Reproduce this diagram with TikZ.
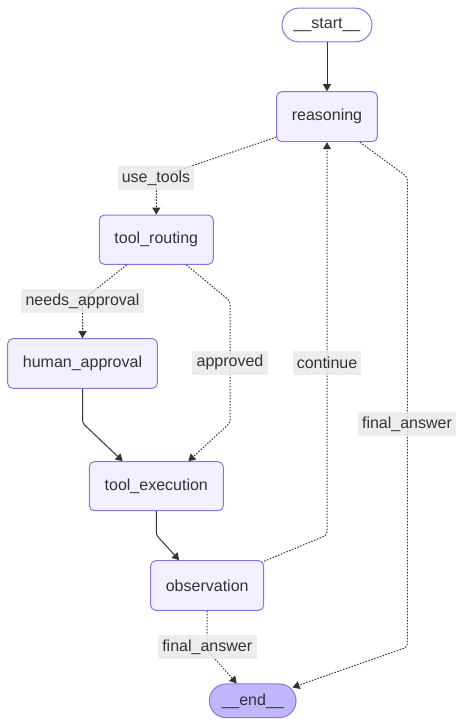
\documentclass[tikz,border=0pt]{standalone}
\usepackage{fontspec}
\setmainfont{Liberation Sans}
\usetikzlibrary{arrows.meta}
\definecolor{nodefill}{HTML}{F2F0FF}
\definecolor{nodeline}{HTML}{9370DB}
\definecolor{endfill}{HTML}{BFB6FC}
\definecolor{edgecol}{HTML}{333333}
\definecolor{lblbg}{HTML}{E8E8E8}
\definecolor{txt}{HTML}{333333}
\begin{document}
\begin{tikzpicture}[x=1pt,y=-1pt,
  every node/.style={font=\fontsize{16}{19}\selectfont, text=txt},
  box/.style={draw=nodeline, fill=nodefill, line width=1pt, rounded corners=5pt, inner sep=0pt},
  term/.style={draw=nodeline, line width=1pt, rounded corners=16.8pt, inner sep=0pt, minimum height=33.7pt},
  lbl/.style={fill=lblbg, fill opacity=0.8, text opacity=1, inner sep=0pt, minimum height=24pt},
  solidflow/.style={draw=edgecol, line width=1pt, rounded corners=3pt, -{Triangle[length=7pt,width=8pt]}},
  dotflow/.style={solidflow, dash pattern=on 1.5pt off 1.5pt},
]
\useasboundingbox (0,0) rectangle (465,726);

% nodes
\node[term, fill=white, minimum width=90pt] (start) at (327,25) {\_\_start\_\_};
\node[box, minimum width=100.6pt, minimum height=50pt] (reasoning) at (327,116.7) {reasoning};
\node[box, minimum width=114pt, minimum height=49.3pt] (routing) at (156.3,239.7) {tool\_routing};
\node[box, minimum width=149.6pt, minimum height=49.6pt] (human) at (82.5,363.5) {human\_approval};
\node[box, minimum width=134pt, minimum height=49pt] (execution) at (156.3,486.2) {tool\_execution};
\node[box, minimum width=113pt, minimum height=49.6pt] (observation) at (207.2,585.5) {observation};
\node[term, fill=endfill, minimum width=86.7pt] (end) at (252.7,700.8) {\_\_end\_\_};

% bend points
\coordinate (c1) at (156.3,178);
\coordinate (c2) at (82.5,300);
\coordinate (c3a) at (230,301);
\coordinate (c3b) at (230,423);
\coordinate (c4) at (82.5,423);
\coordinate (c5) at (156.3,535);
\coordinate (c6) at (327,535);
\coordinate (c7a) at (407.3,177);
\coordinate (c7b) at (407.3,647);
\coordinate (c8) at (207.2,650);

% connectors
\draw[solidflow] (start) -- (reasoning);
\draw[dotflow] ([yshift=5pt]reasoning.south west) -- (c1) -- (routing.north);
\draw[dotflow] ([xshift=-29.6pt]routing.south) -- (c2) -- (human.north);
\draw[dotflow] ([xshift=30pt]routing.south) -- (c3a) -- (c3b) -- ([xshift=32pt]execution.north);
\draw[solidflow] (human.south) -- (c4) -- ([xshift=-33.6pt]execution.north);
\draw[solidflow] (execution.south) -- (c5) -- ([xshift=-28pt]observation.north);
\draw[dotflow] ([yshift=-1pt]observation.north east) -- (c6) -- (reasoning.south);
\draw[dotflow] ([xshift=33pt]reasoning.south) -- (c7a) -- (c7b) -- ([xshift=-4pt,yshift=-4pt]end.north east);
\draw[dotflow] (observation.south) -- (c8) -- ([xshift=-16pt]end.north);

% labels
\node[lbl, minimum width=76.6pt] (l1) at (156,178) {use\_tools};
\node[lbl, minimum width=123pt] (l2) at (82.5,301) {needs\_approval};
\node[lbl, minimum width=75.7pt] (l3) at (230,362.7) {approved};
\node[lbl, minimum width=68.3pt] (l4) at (327,363) {continue};
\node[lbl, minimum width=97.7pt] (l5) at (407,424.3) {final\_answer};
\node[lbl, minimum width=99pt] (l6) at (207.2,647) {final\_answer};
\end{tikzpicture}
\end{document}
